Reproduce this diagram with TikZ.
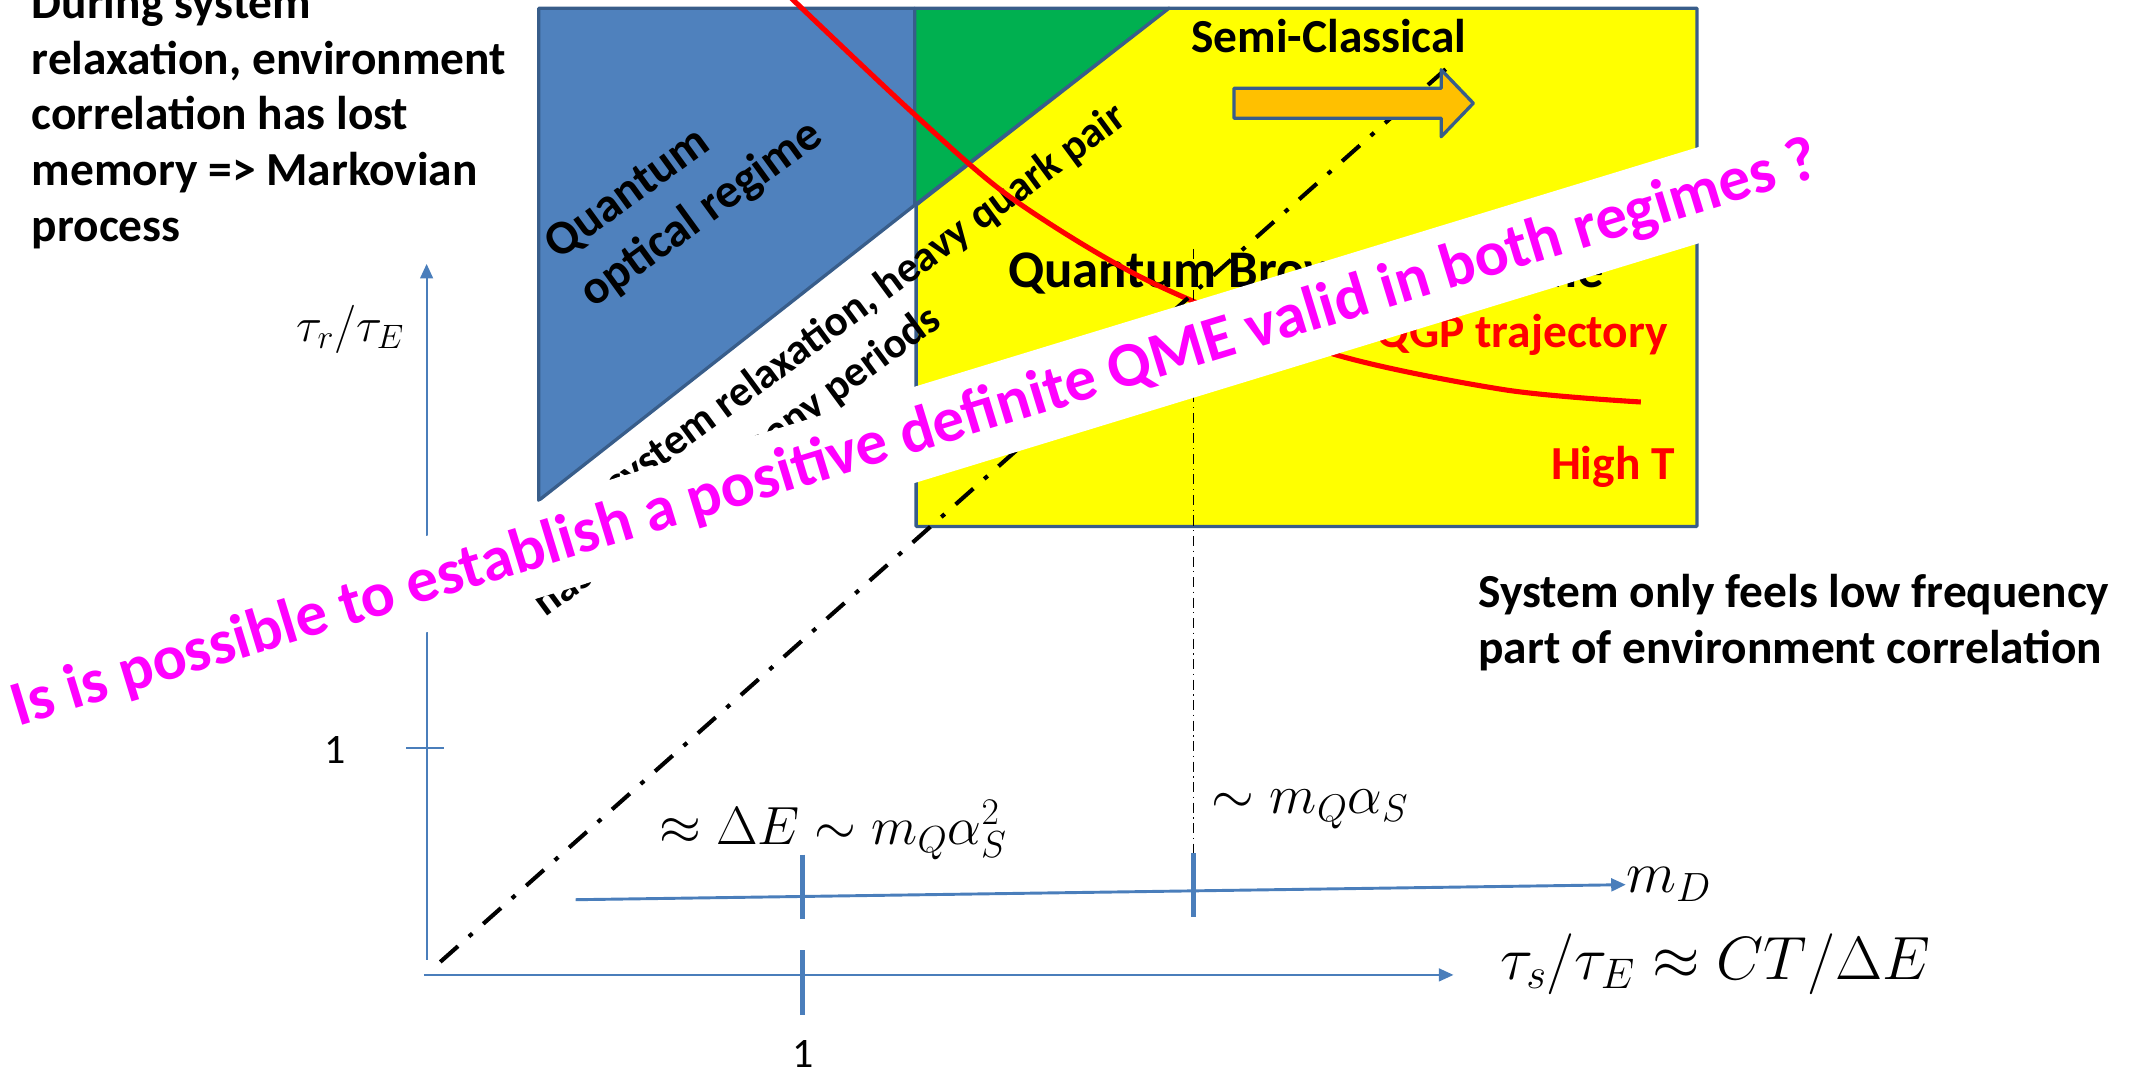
\RequirePackage{fix-cm}
\documentclass[tikz,border=0pt]{standalone}
\usepackage{fontspec}
\setmainfont{Carlito}
\usetikzlibrary{arrows.meta}
\begin{document}
\begin{tikzpicture}[x=0.75pt,y=0.75pt,yscale=-1,xscale=1,
  region/.style={draw={rgb, 255:red, 56; green, 93; blue, 138}, line width=1.8pt, line join=round},
  axisline/.style={color={rgb, 255:red, 74; green, 126; blue, 187}, line width=1.2pt},
  axistip/.style={-{Triangle[length=8pt,width=7pt]}},
  tickmark/.style={color={rgb, 255:red, 74; green, 126; blue, 187}, line width=2.8pt},
  boldtext/.style={inner sep=0pt, font=\bfseries\fontsize{26}{30.5}\selectfont},
  mathlabel/.style={inner sep=0pt, font=\fontsize{30}{36}\selectfont},
  dashdotthick/.style={line width=2.25pt, dash pattern={on 13pt off 8pt on 2.5pt off 8pt}},
  dashdotthin/.style={line width=0.75pt, dash pattern={on 5.5pt off 2.5pt on 0.75pt off 2.5pt}}
]
\useasboundingbox (0,0) rectangle (1568,784);
% regimes
\draw [region, fill={rgb, 255:red, 79; green, 129; blue, 189}] (394,6) -- (669,6) -- (669,150) -- (394,366) -- cycle;
\draw [region, fill={rgb, 255:red, 0; green, 176; blue, 80}] (669,6) -- (855,6) -- (669,150) -- cycle;
\draw [region, fill={rgb, 255:red, 255; green, 255; blue, 0}] (855,6) -- (1241,6) -- (1241,385) -- (670,385) -- (670,150) -- cycle;
% texts on the regimes (base = last line)
\node [boldtext, anchor=base west, align=left] (markov) at (23,176.3) {During system\\relaxation, environment\\correlation has lost\\memory => Markovian\\process};
\node [boldtext, font=\bfseries\fontsize{26.5}{33}\selectfont, anchor=base west, align=left, rotate=36] (optical) at (434,226) {Quantum\\optical regime};
\node [boldtext, font=\bfseries\fontsize{23.6}{28.8}\selectfont, anchor=base west, align=left, rotate=36.4] (relax) at (399,452) {During system relaxation, heavy quark pair\\has oscillated many periods};
\node [boldtext, anchor=base west] (semi) at (871,38.6) {Semi-Classical};
\node [boldtext, font=\bfseries\fontsize{29}{34}\selectfont, anchor=base west] (brown) at (737,210) {Quantum Brownian regime};
\node [boldtext, text={rgb, 255:red, 255; green, 0; blue, 0}, anchor=base east] (qgp) at (1220,254) {QGP trajectory};
\node [boldtext, text={rgb, 255:red, 255; green, 0; blue, 0}, anchor=base east] (hight) at (1225,351) {High T};
\node [boldtext, anchor=base west, align=left] (lowfreq) at (1081,485) {System only feels low frequency\\part of environment correlation};
% QGP trajectory
\draw [color={rgb, 255:red, 255; green, 0; blue, 0}, line width=2.8pt] plot [smooth] coordinates {(578,-2) (668,83) (740,145) (841,206) (972,258) (1100,285) (1200,294)};
% dash-dot guides
\draw [dashdotthin] (873,182) -- (873,668);
\draw [dashdotthick] (322,703.5) -- (1058,50);
\draw [region, fill={rgb, 255:red, 255; green, 192; blue, 0}] (902.5,64.5) -- (1054,64.5) -- (1054,51) -- (1077.5,75.5) -- (1054,100) -- (1054,86.5) -- (902.5,86.5) -- cycle;
% axes
\coordinate (origin) at (310,713);
\coordinate (xend) at (1063,713);
\coordinate (ybot) at (312,702);
\coordinate (yend) at (312,193);
\coordinate (mstart) at (421,658);
\coordinate (mend) at (1189,647);
\draw [axisline, axistip] (ybot) -- (yend);
\draw [axisline, axistip] (origin) -- (xend);
\draw [axisline, axistip, line width=1.6pt] (mstart) -- (mend);
\draw [axisline] (297,547) -- (325,547);
\draw [tickmark] (587,695) -- (587,742);
\draw [tickmark] (587,625) -- (587,672);
\draw [tickmark] (873,624) -- (873,671);
% axis labels
\node [mathlabel, font=\fontsize{26.5}{32}\selectfont, anchor=east] (tauratio) at (296,241) {$\tau_r/\tau_E$};
\node [inner sep=0pt, font=\fontsize{23}{28}\selectfont] (oney) at (245,548.5) {1};
\node [inner sep=0pt, font=\fontsize{23}{28}\selectfont] (onex) at (587,771) {1};
\node [mathlabel, font=\fontsize{29.5}{35}\selectfont, anchor=west] (deltae) at (482,607) {$\approx\Delta E\sim m_Q\alpha_S^2$};
\node [mathlabel, font=\fontsize{30.2}{36}\selectfont, anchor=west] (mqas) at (886,592) {$\sim m_Q\alpha_S$};
\node [mathlabel, font=\fontsize{32}{38}\selectfont, anchor=west] (md) at (mend) {$m_D$};
\node [mathlabel, font=\fontsize{33.5}{40}\selectfont, anchor=west] (taus) at (1097,705) {$\tau_s/\tau_E\approx CT/\Delta E$};
% question band
\node [fill=white, rotate=17, inner xsep=18pt, inner ysep=0pt, minimum height=50.5pt, text={rgb, 255:red, 255; green, 0; blue, 255}, font=\bfseries\fontsize{34.8}{40}\selectfont] (question) at (669,318) {Is is possible to establish a positive definite QME valid in both regimes ?};
\end{tikzpicture}
\end{document}
